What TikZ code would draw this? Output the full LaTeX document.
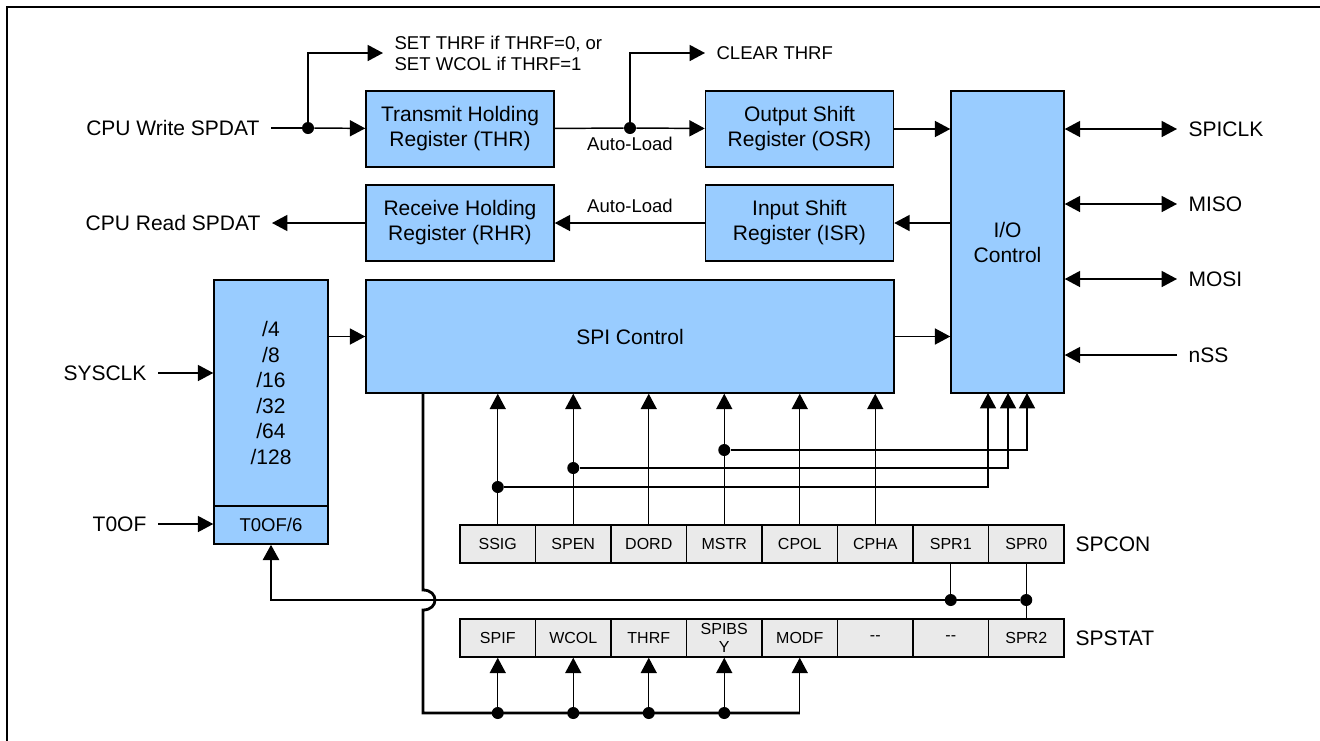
\documentclass[tikz,border=0pt]{standalone}
\usepackage{fontspec}
\setmainfont{Liberation Sans}
\usetikzlibrary{arrows.meta}
\definecolor{blkblue}{RGB}{153,204,255}
\definecolor{cellgray}{RGB}{234,234,234}

\begin{document}
\begin{tikzpicture}[x=0.75pt, y=-0.75pt,
        >={Triangle[length=11.5pt,width=12pt]},
        font=\fontsize{15.75}{18.75}\selectfont,
        blk/.style={draw, line width=1.1pt, fill=blkblue, inner sep=0pt, align=center},
        cell/.style={draw, line width=1.1pt, fill=cellgray, inner sep=0pt, align=center,
                     minimum width=56.6pt, minimum height=28.5pt, font=\fontsize{12}{14}\selectfont},
        lbl/.style={inner xsep=8.5pt, inner ysep=1pt},
        note/.style={lbl, align=left, font=\fontsize{13.9}{15.75}\selectfont},
        jdot/.style={circle, fill, inner sep=0pt, minimum size=9pt},
        wire/.style={line width=1.1pt},
        bus/.style={line width=2.1pt}]
        \useasboundingbox (0,0) rectangle (1320,740);
        \draw[line width=1.6pt] (7,750) -- (7,7) -- (1330,7);
        % Blocks
        \node[blk, minimum width=141pt, minimum height=57pt] (thr) at (460,129) {Transmit Holding\\Register (THR)};
        \node[blk, minimum width=141pt, minimum height=57pt] (osr) at (799.5,129) {Output Shift\\Register (OSR)};
        \node[blk, minimum width=141pt, minimum height=57pt] (rhr) at (460,223) {Receive Holding\\Register (RHR)};
        \node[blk, minimum width=141pt, minimum height=57pt] (isr) at (799.5,223) {Input Shift\\Register (ISR)};
        \node[blk, minimum width=84.75pt, minimum height=226.5pt] (io) at (1007.5,242) {I/O\\Control};
        \node[blk, minimum width=396pt, minimum height=84.75pt] (spi) at (630,336.5) {SPI Control};
        \node[blk, minimum width=85.5pt, minimum height=169.5pt, font=\fontsize{15.75}{19.2}\selectfont] (div) at (271,393) {/4\\/8\\/16\\/32\\/64\\/128};
        \node[blk, minimum width=85.5pt, minimum height=28.5pt, font=\fontsize{13.9}{15}\selectfont] (t6) at (271,525) {T0OF/6};
        % Registers
        \foreach \t [count=\i] in {SSIG,SPEN,DORD,MSTR,CPOL,CPHA,SPR1,SPR0}
            \node[cell] (c\i) at ({497.75+75.5*(\i-1)},544) {\t};
        \foreach \t [count=\i] in {SPIF,WCOL,THRF,{SPIBS\\Y},MODF,{-}{-},{-}{-},SPR2}
            \node[cell] (s\i) at ({497.75+75.5*(\i-1)},638) {\t};
        % Labels
        \node[lbl, anchor=east] (cpuw) at (271,128) {CPU Write SPDAT};
        \node[lbl, anchor=east] (cpur) at (272,223) {CPU Read SPDAT};
        \node[lbl, anchor=east] (sysclk) at (158,373) {SYSCLK};
        \node[lbl, anchor=east] (t0of) at (158,524) {T0OF};
        \node[note, anchor=west] (setw) at (383,53) {SET THRF if THRF=0, or\\SET WCOL if THRF=1};
        \node[note, anchor=west] (clr) at (705,53) {CLEAR THRF};
        \node[note, anchor=north, inner ysep=0pt] (ald1) at (630,137) {Auto-Load};
        \node[note, anchor=south, inner ysep=0pt] (ald2) at (630,213) {Auto-Load};
        \node[lbl, anchor=west] (spiclk) at (1177,129) {SPICLK};
        \node[lbl, anchor=west] (miso) at (1177,204) {MISO};
        \node[lbl, anchor=west] (mosi) at (1177,279) {MOSI};
        \node[lbl, anchor=west] (nss) at (1177,355) {nSS};
        \node[lbl, anchor=west] (spcon) at (1064,544) {SPCON};
        \node[lbl, anchor=west] (spstat) at (1064,638) {SPSTAT};
        % Junctions
        \node[jdot] (j1) at (308,128) {};
        \node[jdot] (j2) at (630,128) {};
        \node[jdot] (d1) at (497.75,487) {};
        \node[jdot] (d2) at (573.25,468) {};
        \node[jdot] (d4) at (724.25,450) {};
        \node[jdot] (d7) at (950.75,600) {};
        \node[jdot] (d8) at (1026.25,600) {};
        \foreach \i in {1,...,4}
            \node[jdot] (e\i) at ({497.75+75.5*(\i-1)},713) {};
        \coordinate (io1) at (988,393);
        \coordinate (io2) at (1008,393);
        \coordinate (io3) at (1027,393);
        \coordinate (bt) at (423,393);
        \coordinate (bb) at (423,713);
        % Data path
        \draw[wire] (cpuw) -- (j1);
        \draw[wire, ->] (j1) -- (thr);
        \draw[wire, ->] (j1) |- (setw.west);
        \draw[wire] (thr) -- (j2);
        \draw[wire, ->] (j2) -- (osr);
        \draw[wire, ->] (j2) |- (clr.west);
        \draw[wire, ->] (isr) -- (rhr);
        \draw[wire, ->] (rhr) -- (cpur);
        \draw[wire, ->] (osr) -- (osr -| io.west);
        \draw[wire, ->] (isr -| io.west) -- (isr);
        \draw[wire, ->] (spi) -- (spi -| io.west);
        \draw[wire, ->] (div.east |- spi) -- (spi);
        \draw[wire, ->] (sysclk) -- (sysclk -| div.west);
        \draw[wire, ->] (t0of) -- (t0of -| t6.west);
        % Pins
        \draw[wire, <->] (spiclk.west -| io.east) -- (spiclk.west);
        \draw[wire, <->] (miso.west -| io.east) -- (miso.west);
        \draw[wire, <->] (mosi.west -| io.east) -- (mosi.west);
        \draw[wire, ->] (nss.west) -- (nss.west -| io.east);
        % Control bits
        \foreach \i in {1,...,6}
            \draw[wire, ->] (c\i.north) -- (c\i.north |- spi.south);
        \draw[wire, ->] (d1) -| (io1);
        \draw[wire, ->] (d2) -| (io2);
        \draw[wire, ->] (d4) -| (io3);
        \draw[wire] (c7.south) -- (d7);
        \draw[wire] (c8.south) -- (s8.north);
        \draw[bus, ->] (d8) -| (t6.south);
        % Status bits
        \draw[bus] (bt) -- ++(0,197) .. controls +(16,0) and +(16,0) .. ++(0,20) -- (bb) -- (bb -| s5.south);
        \foreach \i in {1,...,4}
            \draw[wire, ->] (e\i) -- (s\i.south);
        \draw[wire, ->] (bb -| s5.south) -- (s5.south);
    \end{tikzpicture}
\end{document}
